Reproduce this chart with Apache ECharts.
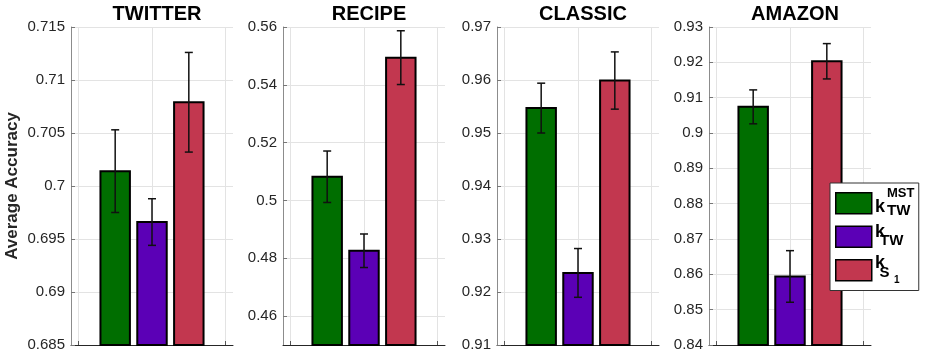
<!DOCTYPE html>
<html>
<head>
<meta charset="utf-8">
<script src="https://cdn.jsdelivr.net/npm/echarts@6/dist/echarts.min.js"></script>
<style>html,body{margin:0;padding:0;background:#fff;}#chart{width:925px;height:359px;}</style>
</head>
<body>
<div id="chart"></div>
<script>
// ---- data ----
const datasets = ['TWITTER', 'RECIPE', 'CLASSIC', 'AMAZON'];
const methodNames = ['k_TW^MST', 'k_TW', 'k_S1'];
const barPositions = [1, 2, 3];
const mstValues = [0.7014, 0.5082, 0.9547, 0.9074];
const twValues  = [0.6966, 0.4826, 0.9236, 0.8594];
const s1Values  = [0.7079, 0.5494, 0.9599, 0.9203];
const mstErr = [0.0039, 0.0089, 0.0047, 0.0048];
const twErr  = [0.0022, 0.0058, 0.0046, 0.0073];
const s1Err  = [0.0047, 0.0093, 0.0054, 0.0050];
const yMins = [0.685, 0.45, 0.91, 0.84];
const yMaxs = [0.715, 0.56, 0.97, 0.93];
const yTicks = [
  [0.685, 0.69, 0.695, 0.7, 0.705, 0.71, 0.715],
  [0.46, 0.48, 0.5, 0.52, 0.54, 0.56],
  [0.91, 0.92, 0.93, 0.94, 0.95, 0.96, 0.97],
  [0.84, 0.85, 0.86, 0.87, 0.88, 0.89, 0.9, 0.91, 0.92, 0.93]
];
const xTicks = [0, 2, 4];
const yAxisTitle = 'Average Accuracy';

// ---- style ----
const colors = ['#006e00', '#5b00b6', '#c2374f'];
const FONT = "'Liberation Sans', Arial, Helvetica, sans-serif";
const gridLefts = [71, 283, 497, 709];
const gridTop = 27, gridW = 162, gridH = 318;

const valuesByMethod = [mstValues, twValues, s1Values];
const errByMethod = [mstErr, twErr, s1Err];

const grids = [], xAxes = [], yAxes = [], series = [], titles = [];
datasets.forEach((name, i) => {
  grids.push({left: gridLefts[i], top: gridTop, width: gridW, height: gridH, containLabel: false});
  titles.push({
    text: name, left: gridLefts[i] + gridW / 2, top: -1, textAlign: 'center',
    textStyle: {fontFamily: FONT, fontSize: 20, fontWeight: 'bold', color: '#000'}
  });
  xAxes.push({
    type: 'value', gridIndex: i, min: -0.2, max: 4.2,
    axisLine: {show: true, onZero: false, lineStyle: {color: '#262626', width: 1}},
    axisTick: {show: true, inside: true, length: 4, customValues: xTicks, lineStyle: {color: '#555'}},
    axisLabel: {show: false, customValues: xTicks},
    splitLine: {show: true, lineStyle: {color: '#e3e3e3', width: 1}}
  });
  yAxes.push({
    type: 'value', gridIndex: i, min: yMins[i], max: yMaxs[i],
    name: i === 0 ? yAxisTitle : '',
    nameLocation: 'middle', nameRotate: 90, nameGap: 50,
    nameTextStyle: {fontFamily: FONT, fontSize: 17, fontWeight: 'bold', color: '#262626'},
    axisLine: {show: true, onZero: false, lineStyle: {color: '#8c8c8c', width: 1}},
    axisTick: {show: true, inside: true, length: 4, customValues: yTicks[i], lineStyle: {color: '#777'}},
    axisLabel: {
      show: true, customValues: yTicks[i], margin: 6,
      fontFamily: FONT, fontSize: 15, color: '#262626',
      formatter: v => String(parseFloat(v.toFixed(4)))
    },
    splitLine: {show: true, lineStyle: {color: '#e3e3e3', width: 1}}
  });
  const yMin = yMins[i];
  valuesByMethod.forEach((vals, m) => {
    series.push({
      type: 'custom', name: methodNames[m], xAxisIndex: i, yAxisIndex: i,
      itemStyle: {color: colors[m], borderColor: '#000', borderWidth: 1.5},
      z: 3, silent: true,
      data: [[barPositions[m], vals[i]]],
      renderItem: (params, api) => {
        const x = api.value(0), v = api.value(1);
        const tl = api.coord([x - 0.4, v]);
        const br = api.coord([x + 0.4, yMin]);
        return {
          type: 'rect',
          shape: {x: tl[0], y: tl[1], width: br[0] - tl[0], height: br[1] - tl[1]},
          style: {fill: api.visual('color'), stroke: '#000', lineWidth: 2}
        };
      }
    });
  });
  series.push({
    type: 'custom', name: 'err' + i, xAxisIndex: i, yAxisIndex: i, z: 5, silent: true,
    encode: {x: 0, y: [1, 2]},
    data: valuesByMethod.map((vals, m) => [barPositions[m], vals[i] - errByMethod[m][i], vals[i] + errByMethod[m][i]]),
    renderItem: (params, api) => {
      const x = api.value(0);
      const pT = api.coord([x, api.value(2)]);
      const pB = api.coord([x, api.value(1)]);
      const hw = 4;
      const st = {stroke: '#111', lineWidth: 1.5};
      return {type: 'group', children: [
        {type: 'line', shape: {x1: pT[0], y1: pT[1], x2: pB[0], y2: pB[1]}, style: st},
        {type: 'line', shape: {x1: pT[0] - hw, y1: pT[1], x2: pT[0] + hw, y2: pT[1]}, style: st},
        {type: 'line', shape: {x1: pB[0] - hw, y1: pB[1], x2: pB[0] + hw, y2: pB[1]}, style: st}
      ]};
    }
  });
});

const legendText = (t, x, y, size) => ({
  type: 'text', x: x, y: y, z: 100, silent: true,
  style: {text: t, fontFamily: FONT, fontSize: size, fontWeight: 'bold', fill: '#000', align: 'left', verticalAlign: 'middle'}
});

const option = {
  animation: false,
  backgroundColor: '#fff',
  title: titles,
  grid: grids,
  xAxis: xAxes,
  yAxis: yAxes,
  legend: {
    data: methodNames,
    orient: 'vertical', left: 830, top: 183,
    padding: [9, 3, 9, 5],
    itemWidth: 36, itemHeight: 21, itemGap: 11,
    icon: 'rect',
    backgroundColor: '#fff', borderColor: '#333', borderWidth: 1, borderRadius: 0,
    itemStyle: {borderColor: '#000', borderWidth: 1.5},
    selectedMode: false, z: 50,
    formatter: () => '\u2003\u2003\u2003',
    textStyle: {fontSize: 13, lineHeight: 14, fontFamily: FONT, color: '#fff'}
  },
  graphic: [
    legendText('k', 875, 207, 18),
    legendText('MST', 887, 193.5, 13),
    legendText('TW', 887, 210.5, 15),
    legendText('k', 875, 232.5, 18),
    legendText('TW', 880, 241.3, 15),
    legendText('k', 875, 263.5, 18),
    legendText('S', 879.5, 272.5, 15),
    legendText('1', 894, 280, 10)
  ],
  series: series
};

const chart = echarts.init(document.getElementById('chart'), null, {renderer: 'canvas'});
chart.setOption(option);
</script>
</body>
</html>
